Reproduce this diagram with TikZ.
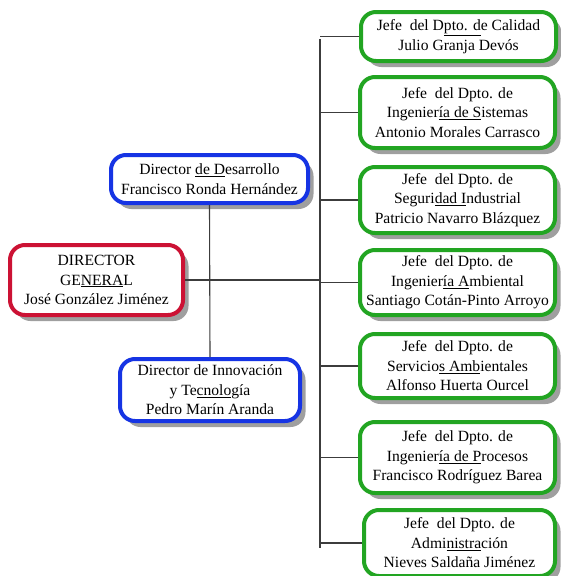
\documentclass[tikz,border=0pt]{standalone}
\usepackage{fontspec}
\setmainfont{Liberation Serif}
\usetikzlibrary{shadows}
\definecolor{cred}{RGB}{204,18,52}
\definecolor{cblue}{RGB}{22,52,228}
\definecolor{cgreen}{RGB}{34,165,34}
\definecolor{cline}{RGB}{60,60,60}
\newcommand{\ul}[1]{\underline{#1}}
\begin{document}
\begin{tikzpicture}[x=1pt,y=-1pt,
  box/.style={rounded corners=15pt, line width=4pt, fill=white, align=center,
    inner sep=0pt, font=\fontsize{15.6}{19.5}\selectfont,
    drop shadow={shadow xshift=5.5pt, shadow yshift=-6pt, fill=gray!75, opacity=1}},
  redbox/.style={box, draw=cred},
  bluebox/.style={box, draw=cblue},
  greenbox/.style={box, draw=cgreen, minimum width=195pt},
  conn/.style={draw=cline, line width=1.1pt}]
\useasboundingbox (0,0) rectangle (560,576);

\node[redbox, minimum width=173pt, minimum height=70pt] (dg) at (96.5,280)
  {DIRECTOR\\GE\ul{NERA}L\\José González Jiménez};
\node[bluebox, minimum width=197pt, minimum height=48pt] (dd) at (209.5,179)
  {Director \ul{de D}esarrollo\\Francisco Ronda Hernández};
\node[bluebox, minimum width=180pt, minimum height=62pt] (di) at (210,390)
  {Director de Innovación\\y Te\ul{cnolo}gía\\Pedro Marín Aranda};

\node[greenbox, minimum height=49pt] (g1) at (458.5,36.5)
  {Jefe \ del D\ul{pto. d}e Calidad\\Julio Granja Devós};
\node[greenbox, minimum height=71pt] (g2) at (457.5,112.5)
  {Jefe \ del Dpto. de\\Ingenier\ul{ía de S}istemas\\Antonio Morales Carrasco};
\node[greenbox, minimum height=66pt] (g3) at (457.5,200)
  {Jefe \ del Dpto. de\\Seguri\ul{dad I}ndustrial\\Patricio Navarro Blázquez};
\node[greenbox, minimum height=65pt] (g4) at (457.5,282.5)
  {Jefe \ del Dpto. de\\Ingenier\ul{ía A}mbiental\\Santiago Cotán-Pinto Arroyo};
\node[greenbox, minimum height=64pt] (g5) at (457.5,366)
  {Jefe \ del Dpto. de\\Servicio\ul{s Amb}ientales\\Alfonso Huerta Ourcel};
\node[greenbox, minimum height=71pt] (g6) at (457.5,457.5)
  {Jefe \ del Dpto. de\\Ingenier\ul{ía de P}rocesos\\Francisco Rodríguez Barea};
\node[greenbox, minimum width=191pt, minimum height=66pt] (g7) at (459.5,543)
  {Jefe \ del Dpto. de\\Admi\ul{nistra}ción\\Nieves Saldaña Jiménez};

\coordinate (bt) at (320,39);
\coordinate (bb) at (320,548);
\draw[conn] (bt) -- (bb);
\draw[conn] (dd.south) -- (di.north);
\draw[conn] (dg.east) -- (dg.east -| bt);
\foreach \g in {g1,g2,g3,g4,g5,g6,g7}
  \draw[conn] (\g.west) -- (\g.west -| bt);
\end{tikzpicture}
\end{document}
